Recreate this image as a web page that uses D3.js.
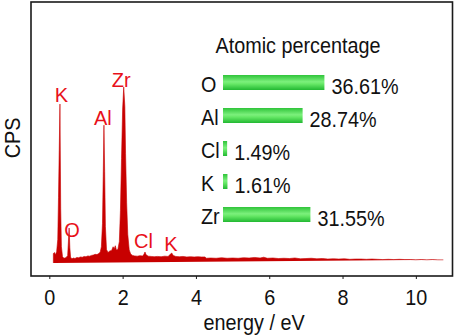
<!DOCTYPE html>
<html><head><meta charset="utf-8">
<script src="https://cdn.jsdelivr.net/npm/d3@7"></script>
<style>body{margin:0;background:#fff}svg{display:block}text{font-family:"Liberation Sans",Arial,sans-serif}</style>
</head><body><svg id="c" width="459" height="336"></svg>
<script>
// Spectrum (energy in eV, counts per second in arbitrary units)
const energy = [0.11,0.11,0.14,0.17,0.2,0.23,0.25,0.27,0.29,0.31,0.33,0.36,0.4,0.45,0.5,0.52,0.54,0.56,0.58,0.62,0.66,0.7,0.75,0.8,0.85,0.9,0.95,1.0,1.05,1.1,1.15,1.2,1.25,1.3,1.35,1.39,1.42,1.45,1.47,1.49,1.51,1.53,1.56,1.6,1.65,1.7,1.74,1.77,1.8,1.83,1.87,1.91,1.94,1.97,2.0,2.03,2.06,2.08,2.11,2.14,2.18,2.22,2.27,2.33,2.4,2.47,2.54,2.58,2.61,2.64,2.7,2.78,2.86,2.95,3.05,3.15,3.24,3.3,3.34,3.38,3.45,3.55,3.65,3.75,3.85,3.95,4.05,4.15,4.25,4.28,4.4,4.55,4.7,4.85,5.0,5.15,5.3,5.45,5.6,5.75,5.85,5.95,6.1,6.25,6.4,6.55,6.7,6.85,7.0,7.15,7.3,7.45,7.6,7.75,7.9,8.05,8.2,8.35,8.5,8.65,8.8,8.95,9.1,9.25,9.4,9.55,9.7,9.85,10.0,10.15,10.3,10.45,10.6,10.75,10.9,11.0];
const cps = [0,36,40,31,44,90,250,430,609,210,62,24,18,20,28,80,134,58,22,16,19,17,21,20,23,22,25,24,27,26,29,30,33,32,36,42,62,150,330,528,350,140,52,40,46,48,62,54,66,50,52,82,200,400,590,674,600,420,230,110,50,34,29,27,26,28,27,32,42,31,26,25,24,25,24,26,25,33,38,29,25,24,25,23,24,23,24,23,23,18,19,18,20,18,19,18,20,19,21,19,22,18,19,17,18,17,19,16,17,18,16,17,15,16,15,16,14,15,15,14,15,14,13,14,13,14,13,13,12,13,12,13,12,12];

// Peak labels
const peakNames = ["K","O","Al","Zr","Cl","K"];
const peakEnergy = [0.33,0.62,1.46,1.96,2.57,3.32];
const peakLabelCps = [618,99,530,675,58,44];

// Atomic percentage
const elements = ["O","Al","Cl","K","Zr"];
const atomicPct = [36.61,28.74,1.49,1.61,31.55];

const xTicks = [0,2,4,6,8,10];

const svg = d3.select("#c");
const L=31, T=2, R=452.5, B=276;
const FS = 22, SX = 0.9;
const x = d3.scaleLinear().domain([-0.5,11]).range([L,R]);
const y = d3.scaleLinear().domain([-50,1000]).range([B,T]);

// condensed text helper
function ctext(parent, tx, ty, str, anchor, rot) {
  return parent.append("text")
    .attr("transform", `translate(${tx},${ty})` + (rot ? ` rotate(${rot})` : "") + ` scale(${SX},1)`)
    .attr("text-anchor", anchor || "start").attr("font-size", FS).attr("fill", "#111").text(str);
}

const defs = svg.append("defs");
const g = defs.append("linearGradient").attr("id","bar").attr("x1",0).attr("x2",0).attr("y1",0).attr("y2",1);
g.append("stop").attr("offset","0%").attr("stop-color","#2fc43a");
g.append("stop").attr("offset","45%").attr("stop-color","#7cf07c");
g.append("stop").attr("offset","60%").attr("stop-color","#66e866");
g.append("stop").attr("offset","100%").attr("stop-color","#22b832");

const pts = energy.map((e,i)=>[e,cps[i]]);
svg.append("path").datum(pts)
  .attr("d", d3.area().x(d=>x(d[0])).y0(y(0)).y1(d=>y(d[1])))
  .attr("fill","#c80000").attr("stroke","#c80000").attr("stroke-width",0.6);

svg.selectAll(".pl").data(peakNames).join("text")
  .attr("x",(d,i)=>x(peakEnergy[i])).attr("y",(d,i)=>y(peakLabelCps[i]))
  .attr("text-anchor","middle").attr("font-size",20).attr("fill","#e8101a").text(d=>d);

// frame
svg.append("rect").attr("x",L).attr("y",T).attr("width",R-L).attr("height",B-T)
  .attr("fill","none").attr("stroke","#1a1a1a").attr("stroke-width",1.6);

const ax = svg.append("g").attr("transform",`translate(0,${B})`)
  .call(d3.axisBottom(x).tickValues(xTicks).tickSize(3).tickPadding(11).tickFormat(d3.format("d")));
ax.select(".domain").remove();
ax.attr("font-family",null);
ax.selectAll("line").attr("stroke","#1a1a1a");
ax.selectAll("text").attr("font-size",FS).attr("fill","#111").attr("dy","0.7em")
  .attr("transform",`scale(${SX},1)`);

ctext(svg, 254, 330, "energy / eV", "middle");
ctext(svg, 19.5, 138, "CPS", "middle", -90);

// legend
const bx = d3.scaleLinear().domain([0,100]).range([223,223+277]);
const rowY = d3.scalePoint().domain(elements).range([82.5,214.5]);
ctext(svg, 298, 53, "Atomic percentage", "middle");
elements.forEach((el,i)=>{
  const cy = rowY(el);
  ctext(svg, 201, cy+9.5, el, "start");
  svg.append("rect").attr("x",bx(0)).attr("y",cy-7.5).attr("height",15)
    .attr("width",bx(atomicPct[i])-bx(0)).attr("fill","url(#bar)");
  ctext(svg, bx(atomicPct[i])+7, cy+11.5, atomicPct[i].toFixed(2)+"%", "start");
});
</script></body></html>
